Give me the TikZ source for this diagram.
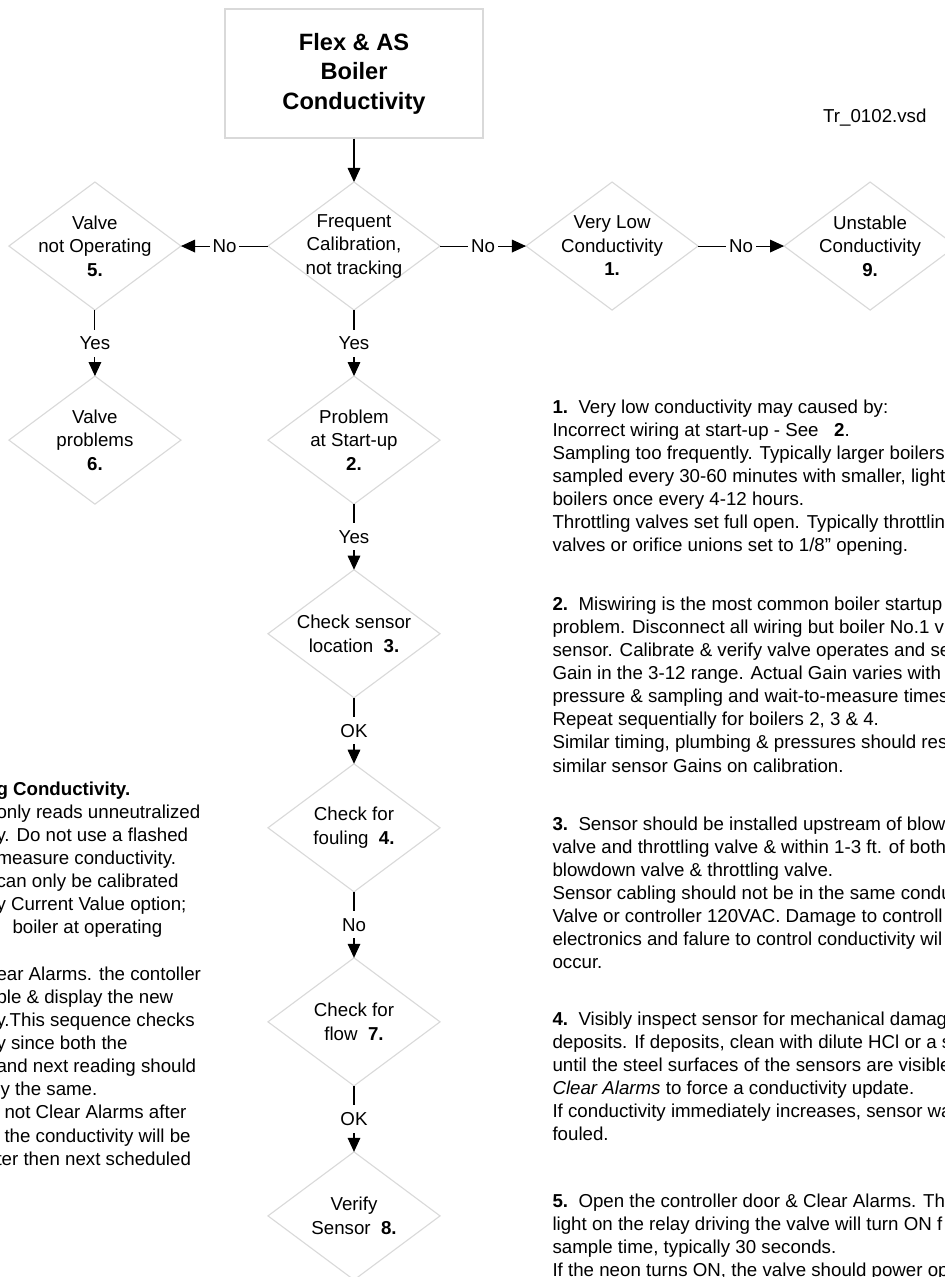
\documentclass[tikz,border=0pt]{standalone}
\usepackage{fontspec}
\setmainfont{Liberation Sans}
\usetikzlibrary{shapes.geometric,arrows.meta,positioning}

\begin{document}
\begin{tikzpicture}[x=0.025cm,y=-0.025cm,line width=0.75pt,
>={Triangle[length=10pt,width=9pt]}]
\tikzstyle{dia}=[diamond,draw=black!15,line width=0.8pt,
inner sep=0pt,outer sep=0pt,
minimum width=4.3cm,minimum height=3.2cm]
\tikzstyle{txt}=[align=center,inner sep=0pt,
font=\fontsize{13.3}{16.7}\selectfont]
\tikzstyle{lbl}=[fill=white,inner xsep=2pt,inner ysep=5pt,
font=\fontsize{13.3}{16.7}\selectfont]
\tikzstyle{note}=[align=left,anchor=north west,inner sep=0pt,
font=\fontsize{13.3}{16.45}\selectfont]

\useasboundingbox (0,0) rectangle (945,1277);
\clip (0,0) rectangle (945,1277);

\node[draw=black!15,line width=0.8pt,minimum width=6.45cm,minimum height=3.225cm,
align=center,font=\bfseries\fontsize{16.8}{21}\selectfont] at (354,73.5) (title)
{Flex \& AS\\Boiler\\Conductivity};
\node[anchor=west,font=\fontsize{13.3}{16.45}\selectfont] at (818,118) (file) {Tr\_0102.vsd};

% decision row
\node[dia,below of =title,node distance=4.3125cm] (freq) {};
\node[dia,left of =freq,node distance=6.475cm] (valve) {};
\node[dia,right of =freq,node distance=6.45cm] (low) {};
\node[dia,right of =low,node distance=6.45cm] (unst) {};
\node[dia,below of =valve,node distance=4.85cm] (vprob) {};
% main column
\node[dia,below of =freq,node distance=4.85cm] (start) {};
\node[dia,below of =start,node distance=4.84cm] (loc) {};
\node[dia,below of =loc,node distance=4.85cm] (foul) {};
\node[dia,below of =foul,node distance=4.85cm] (flow) {};
\node[dia,below of =flow,node distance=4.85cm] (verify) {};

\node[txt] at (freq) (freqt) {Frequent\\Calibration,\\not tracking};
\node[txt] at (valve) (valvet) {Valve\\not Operating\\\textbf{5.}};
\node[txt] at (low) (lowt) {Very Low\\Conductivity\\\textbf{1.}};
\node[txt] at (unst) (unstt) {Unstable\\Conductivity\\\textbf{9.}};
\node[txt] at (vprob) (vprobt) {Valve\\problems\\\textbf{6.}};
\node[txt] at (start) (startt) {Problem\\at Start-up\\\textbf{2.}};
\node[txt] at (loc) (loct) {Check sensor\\location\ \ \textbf{3.}};
\node[txt] at (foul) (foult) {Check for\\fouling\ \ \textbf{4.}};
\node[txt] at (flow) (flowt) {Check for\\flow\ \ \textbf{7.}};
\node[txt] at (verify) (verifyt) {Verify\\Sensor\ \ \textbf{8.}};

\draw[->] (title) -- (freq);
\path[->] (freq) edge node[lbl] {No} (valve);
\path[->] (freq) edge node[lbl] {No} (low);
\path[->] (low) edge node[lbl] {No} (unst);
\path[->] (valve) edge node[lbl] {Yes} (vprob);
\path[->] (freq) edge node[lbl] {Yes} (start);
\path[->] (start) edge node[lbl] {Yes} (loc);
\path[->] (loc) edge node[lbl] {OK} (foul);
\path[->] (foul) edge node[lbl] {No} (flow);
\path[->] (flow) edge node[lbl] {OK} (verify);

% notes
\node[note] at (552,399) (note1) {\textbf{1.}\ \ Very low conductivity may caused by:\\
Incorrect wiring at start-up - See \ \ \textbf{2}.\\
Sampling too frequently. Typically larger boilers\\
sampled every 30-60 minutes with smaller, light\\
boilers once every 4-12 hours.\\
Throttling valves set full open. Typically throttlin\\
valves or orifice unions set to 1/8" opening.};
\node[note] at (552,596) (note2) {\textbf{2.}\ \ Miswiring is the most common boiler startup\\
problem. Disconnect all wiring but boiler No.1 v\\
sensor. Calibrate \& verify valve operates and se\\
Gain in the 3-12 range. Actual Gain varies with\\
pressure \& sampling and wait-to-measure times\\
Repeat sequentially for boilers 2, 3 \& 4.\\
Similar timing, plumbing \& pressures should res\\
similar sensor Gains on calibration.};
\node[note] at (552,816) (note3) {\textbf{3.}\ \ Sensor should be installed upstream of blow\\
valve and throttling valve \& within 1-3 ft. of both\\
blowdown valve \& throttling valve.\\
Sensor cabling should not be in the same condu\\
Valve or controller 120VAC. Damage to controll\\
electronics and falure to control conductivity wil\\
occur.};
\node[note] at (552,1011) (note4) {\textbf{4.}\ \ Visibly inspect sensor for mechanical damag\\
deposits. If deposits, clean with dilute HCl or a s\\
until the steel surfaces of the sensors are visible\\
\textit{Clear Alarms} to force a conductivity update.\\
If conductivity immediately increases, sensor wa\\
fouled.};
\node[note] at (552,1193) (note5) {\textbf{5.}\ \ Open the controller door \& Clear Alarms. Th\\
light on the relay driving the valve will turn ON f\\
sample time, typically 30 seconds.\\
If the neon turns ON, the valve should power op};
\node[note] at (-4,781) (note0) {\textbf{g Conductivity.}\\
only reads unneutralized\\
y. Do not use a flashed\\
measure conductivity.\\
can only be calibrated\\
y Current Value option;\\
\hspace*{0.4cm}boiler at operating\\
\mbox{}\\
ear Alarms. the contoller\\
ple \& display the new\\
y.This sequence checks\\
y since both the\\
and next reading should\\
ly the same.\\
\hspace*{0.2cm}not Clear Alarms after\\
\hspace*{0.2cm}the conductivity will be\\
ter then next scheduled};

\end{tikzpicture}
\end{document}
